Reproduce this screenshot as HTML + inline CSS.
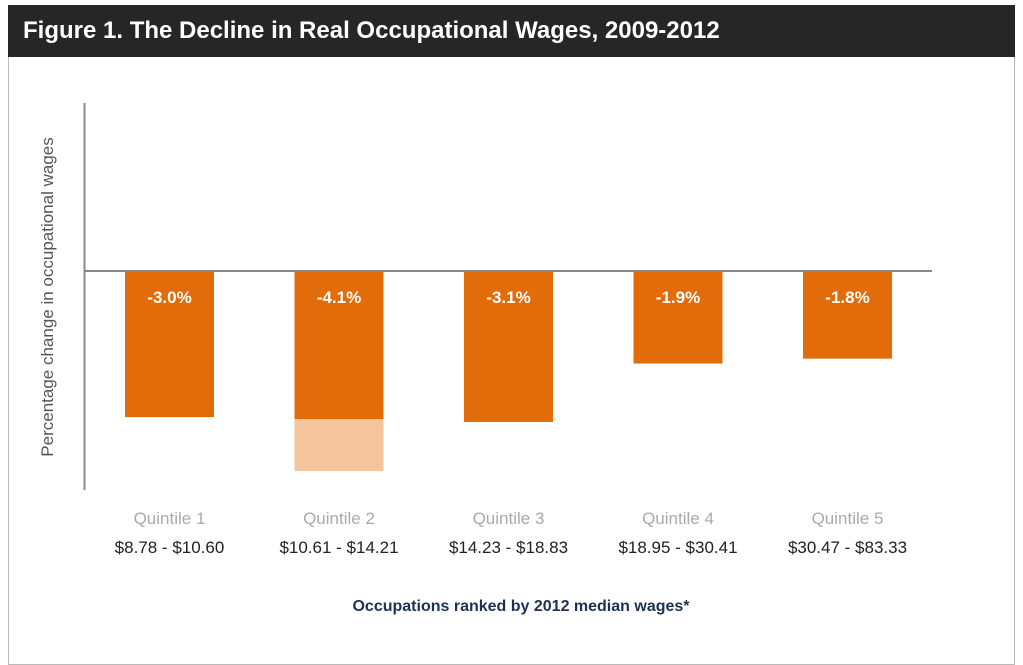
<!DOCTYPE html>
<html><head><meta charset="utf-8"><style>
body{margin:0;width:1023px;height:638px;background:#fff;overflow:hidden;font-family:"Liberation Sans",sans-serif}
#frame{position:absolute;left:8px;top:5px;width:1007px;height:660px;border:1px solid #bbb;box-sizing:border-box}
#title{position:absolute;left:8px;top:5px;width:1007px;height:52px;background:#262626;color:#fff;font-weight:bold;font-size:24px;line-height:52px;padding-left:15px;box-sizing:border-box}
</style></head><body>
<div id="frame"></div>
<div id="title">Figure 1. The Decline in Real Occupational Wages, 2009-2012</div>
<svg id="chart" width="1023" height="638" style="position:absolute;left:0;top:0"></svg>
<script>
const categories=["Quintile 1","Quintile 2","Quintile 3","Quintile 4","Quintile 5"];
const ranges=["$8.78 - $10.60","$10.61 - $14.21","$14.23 - $18.83","$18.95 - $30.41","$30.47 - $83.33"];
const values=[-3.0,-4.1,-3.1,-1.9,-1.8];
const labels=["-3.0%","-4.1%","-3.1%","-1.9%","-1.8%"];
const svg=document.getElementById('chart');
const NS='http://www.w3.org/2000/svg';
const y0=271,pxPer=48.7;
function yScale(v){return y0-v*pxPer;}
function xCenter(i){return 169.5+i*169.5;}
function mk(tag,attrs,parent){const e=document.createElementNS(NS,tag);for(const k in attrs)e.setAttribute(k,attrs[k]);(parent||svg).appendChild(e);return e;}
const ax=mk('line',{x1:84.5,y1:103,x2:84.5,y2:490,stroke:'#888','stroke-width':2});


values.forEach((v,i)=>{
  const x=xCenter(i)-44.5,y=yScale(v);
  const r=mk('rect',{x:x,y:y0,width:89,height:y-y0,fill:'#e36c0a'});
  
  
  if(y>430){const o=mk('rect',{x:x,y:419,width:89,height:y-419,fill:'#f4c49d'});
    
    }
  const t=mk('text',{x:xCenter(i),y:303,'text-anchor':'middle',fill:'#fff','font-size':17,'font-weight':'bold'});
  t.textContent=labels[i];
  
  
  const c=mk('text',{x:xCenter(i),y:524,'text-anchor':'middle',fill:'#aaa','font-size':17});
  c.textContent=categories[i];
  
  
  const g=mk('text',{x:xCenter(i),y:553,'text-anchor':'middle',fill:'#222','font-size':17});
  g.textContent=ranges[i];
  
  
});
const zl=mk('line',{x1:84,y1:y0,x2:932,y2:y0,stroke:'#888','stroke-width':2});


const yt=mk('text',{x:0,y:0,transform:'translate(53,297) rotate(-90)','text-anchor':'middle',fill:'#555','font-size':17});
yt.textContent='Percentage change in occupational wages';


const xt=mk('text',{x:521,y:611,'text-anchor':'middle',fill:'#1f3050','font-size':16,'font-weight':'bold'});
xt.textContent='Occupations ranked by 2012 median wages*';


</script>
</body></html>
